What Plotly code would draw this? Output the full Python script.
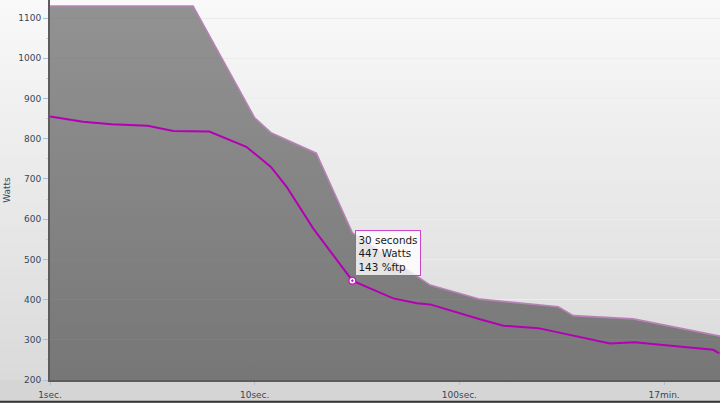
import math
import plotly.graph_objects as go

# ---- data ----
secs_upper = [1, 5, 10, 12, 20, 30, 72, 126, 304, 360, 707, 1196, 1876]
watts_upper = [1130, 1130, 852, 815, 764, 566, 436, 401, 382, 360, 352, 329, 309]

secs_lower = [1, 1.45, 2, 3, 4, 6, 9.1, 12, 14.3, 19.3, 30, 47.5, 62, 72, 126,
              164, 243, 374, 544, 721, 853, 1739, 1860]
watts_lower = [855, 842, 836, 832, 819, 818, 780, 730, 681, 577, 447, 403, 391,
               388, 351, 335, 329, 308, 291, 294, 290, 275, 266]

tick_secs = [1, 10, 100, 1000]
tick_text = ["1sec.", "10sec.", "100sec.", "17min."]

FTP = 313
hover_sec = 30

W, H = 720, 403
ML, MR, MT, MB = 50, 0, 0, 23
PW, PH = W - ML - MR, H - MT - MB

fig = go.Figure()

fig.add_trace(go.Scatter(
    x=secs_upper, y=watts_upper, mode="lines", fill="tozeroy",
    line=dict(color="#b882b8", width=1.6),
    fillcolor="rgba(70,70,70,0.6)",
    fillgradient=dict(type="vertical", start=200, stop=1145,
                      colorscale=[[0, "rgba(58,58,58,0.62)"], [1, "rgba(78,78,78,0.6)"]]),
    hoverinfo="skip",
))

fig.add_trace(go.Scatter(
    x=secs_lower, y=watts_lower, mode="lines",
    line=dict(color="#b400b4", width=2),
    hoverinfo="skip",
))

hi = secs_lower.index(hover_sec)
hw = watts_lower[hi]
fig.add_trace(go.Scatter(
    x=[secs_lower[hi]], y=[hw], mode="markers",
    marker=dict(symbol="circle-dot", size=7, color="white",
                line=dict(color="#c020c0", width=1.5)),
    hoverinfo="skip",
))

fig.add_annotation(
    x=math.log10(secs_lower[hi]), y=hw, xref="x", yref="y",
    text=f"{hover_sec} seconds<br>{hw} Watts<br>{round(hw / FTP * 100)} %ftp",
    showarrow=False, xanchor="left", yanchor="bottom", align="left",
    xshift=3, yshift=5,
    font=dict(family="DejaVu Sans", size=10.4, color="#1a1a1a"),
    bgcolor="rgba(255,255,255,0.8)", bordercolor="#cc44cc", borderwidth=1, borderpad=2.5,
)

# background gradient bands (styling only)
shapes = []
n = 50
top_c, bot_c = 249, 216
y_lo = -MB / PH
for i in range(n):
    f0 = i / n
    f1 = (i + 1) / n
    y0 = y_lo + (1 - y_lo) * f0
    y1 = y_lo + (1 - y_lo) * f1
    frac = (f0 + f1) / 2
    c = int(round(bot_c + (top_c - bot_c) * frac))
    shapes.append(dict(type="rect", xref="paper", yref="paper",
                       x0=-ML / PW, x1=1, y0=y0, y1=y1 + 0.002,
                       fillcolor=f"rgb({c},{c},{c})", line=dict(width=0), layer="below"))
shapes.append(dict(type="rect", xref="paper", yref="paper",
                   x0=-ML / PW, x1=1, y0=y_lo, y1=0,
                   fillcolor="#d5d5d5", line=dict(width=0), layer="below"))
shapes.append(dict(type="line", xref="paper", yref="paper",
                   x0=-ML / PW, x1=1, y0=y_lo + 1.2 / PH, y1=y_lo + 1.2 / PH,
                   line=dict(color="#333333", width=2), layer="above"))

fig.update_layout(
    width=W, height=H,
    margin=dict(l=ML, r=MR, t=MT, b=MB, autoexpand=False),
    paper_bgcolor="#e6e6e6", plot_bgcolor="rgba(0,0,0,0)",
    showlegend=False, hovermode=False,
    shapes=shapes,
    font=dict(family="DejaVu Sans", size=9, color="#34485c"),
)

fig.update_xaxes(
    type="log", range=[0, math.log10(1876)],
    tickvals=tick_secs, ticktext=tick_text,
    showgrid=False, zeroline=False,
    showline=True, linecolor="#5c5c5c", linewidth=2,
    ticks="outside", ticklen=3, tickcolor="#a9c1d9",
    tickfont=dict(size=9, color="#34485c"), ticklabelstandoff=2,
)
fig.update_yaxes(
    range=[200, 1145], tick0=200, dtick=100,
    showgrid=True, gridcolor="#ececec", gridwidth=1, zeroline=False,
    showline=True, linecolor="#5c5c5c", linewidth=2,
    ticks="outside", ticklen=5, tickcolor="#a9c1d9",
    tickfont=dict(size=9, color="#34485c"),
    minor=dict(dtick=50, ticks="outside", ticklen=2, tickcolor="#c4d2e0", showgrid=False),
    title=dict(text="Watts", font=dict(size=9, color="#34485c"), standoff=6),
)

fig.write_html(
    "out.html",
    config={"displayModeBar": False, "staticPlot": True},
    post_script="document.body.style.margin='0';document.body.style.overflow='hidden';",
)
